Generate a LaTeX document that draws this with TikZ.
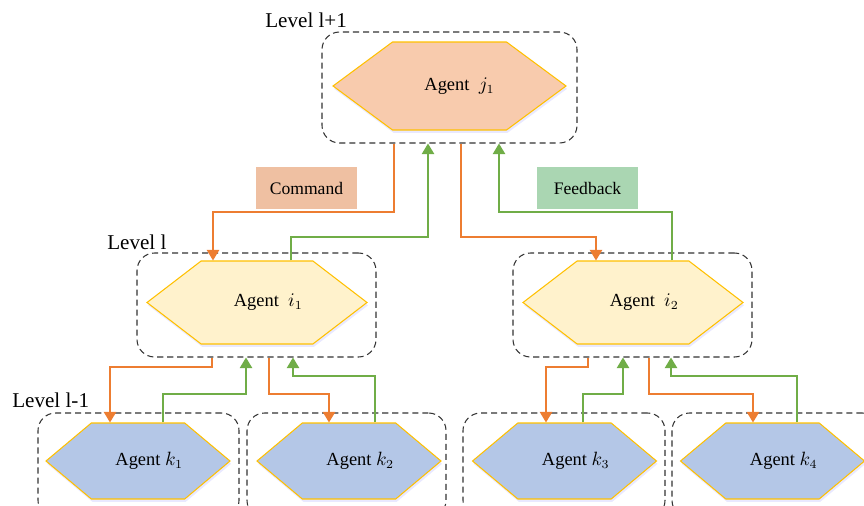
\documentclass[tikz,border=0pt]{standalone}
\usepackage{fontspec}
\setmainfont{Liberation Serif}
\usetikzlibrary{shapes.symbols, fit, arrows.meta, shadows}

\definecolor{hexJ}{HTML}{F8CBAD}
\definecolor{hexI}{HTML}{FFF2CC}
\definecolor{hexK}{HTML}{B4C7E7}
\definecolor{hexEdge}{HTML}{FFC000}
\definecolor{cmdLine}{HTML}{ED7D31}
\definecolor{fbLine}{HTML}{70AD47}
\definecolor{cmdFill}{HTML}{EFC0A2}
\definecolor{fbFill}{HTML}{AAD6B2}

\begin{document}
\begin{tikzpicture}[x=0.02cm, y=-0.02cm,
    hexa/.style={signal, signal to=east and west, draw=hexEdge, line width=0.6pt,
                 inner sep=0pt, font=\fontsize{10.5}{12}\selectfont,
                 drop shadow={shadow xshift=0.6pt, shadow yshift=-1.6pt,
                              fill=blue!25, opacity=0.35}},
    grp/.style={draw=black!80, line width=0.6pt, dash pattern=on 3.5pt off 2.2pt,
                rounded corners=10pt, inner sep=0pt},
    lvl/.style={font=\large, anchor=west, inner sep=0pt},
    tag/.style={minimum width=2.02cm, minimum height=0.84cm, font=\normalsize,
                inner sep=0pt},
    cmd/.style={draw=cmdLine, line width=0.85pt, -{Triangle[width=7pt, length=6pt]}},
    fb/.style={draw=fbLine, line width=0.85pt, -{Triangle[width=7pt, length=6pt]}},
]
\useasboundingbox (0,0) rectangle (864,506);

% --- level l+1 ---
\node[lvl] (lvlTop) at (265,20) {Level l+1};
\node[grp, fit={(322,32) (577,143)}] (Lj) {};
\node[hexa, fill=hexJ, minimum width=4.66cm, minimum height=1.76cm,
      signal pointer angle=73] (j1) at (449.5,86) {\hspace*{0.4cm}Agent~~$j_1$};

% --- level l ---
\node[lvl] (lvlMid) at (107,242) {Level l};
\node[grp, fit={(137,253) (376,357)}] (Li1) {};
\node[grp, fit={(513,253) (752,357)}] (Li2) {};
\foreach \n/\x/\s in {i1/257/1, i2/633/2} {
    \node[hexa, fill=hexI, minimum width=4.4cm, minimum height=1.66cm,
          signal pointer angle=75] (\n) at (\x,302.5)
          {\hspace*{0.45cm}Agent~~$i_{\s}$};
}

% --- level l-1 ---
\node[lvl] (lvlLow) at (12,400) {Level l-1};
\node[grp, fit={(38,413) (239,518)}] (Lk1) {};
\node[grp, fit={(247,413) (446,518)}] (Lk2) {};
\node[grp, fit={(463,413) (665,518)}] (Lk3) {};
\node[grp, fit={(672,413) (880,518)}] (Lk4) {};
\foreach \n/\x/\s in {k1/138/1, k2/349/2, k3/564.5/3, k4/772.5/4} {
    \node[hexa, fill=hexK, minimum width=3.68cm, minimum height=1.52cm,
          signal pointer angle=80] (\n) at (\x,461)
          {\hspace*{0.45cm}Agent~$k_{\s}$};
}

% labels
\node[tag, fill=cmdFill] (cmdTag) at (306.5,188) {Command};
\node[tag, fill=fbFill] (fbTag) at (587.5,188) {Feedback};

% --- links between l+1 and l ---
\draw[cmd] (394,0 |- Lj.south) -- (394,212) -| (213,0 |- i1.north);
\draw[fb]  (291,0 |- i1.north) -- (291,237) -| (428,0 |- Lj.south);
\draw[cmd] (461,0 |- Lj.south) -- (461,237) -| (596,0 |- i2.north);
\draw[fb]  (672,0 |- i2.north) -- (672,212) -| (499,0 |- Lj.south);

% --- links between l and l-1 ---
\draw[cmd] (212,0 |- Li1.south) -- (212,367) -| (110,0 |- k1.north);
\draw[fb]  (163,0 |- k1.north) -- (163,394) -| (246,0 |- Li1.south);
\draw[cmd] (269,0 |- Li1.south) -- (269,394) -| (329,0 |- k2.north);
\draw[fb]  (375,0 |- k2.north) -- (375,376) -| (293,0 |- Li1.south);

\draw[cmd] (588,0 |- Li2.south) -- (588,367) -| (546,0 |- k3.north);
\draw[fb]  (583,0 |- k3.north) -- (583,394) -| (623,0 |- Li2.south);
\draw[cmd] (649,0 |- Li2.south) -- (649,394) -| (753,0 |- k4.north);
\draw[fb]  (797,0 |- k4.north) -- (797,376) -| (671,0 |- Li2.south);

\end{tikzpicture}
\end{document}
